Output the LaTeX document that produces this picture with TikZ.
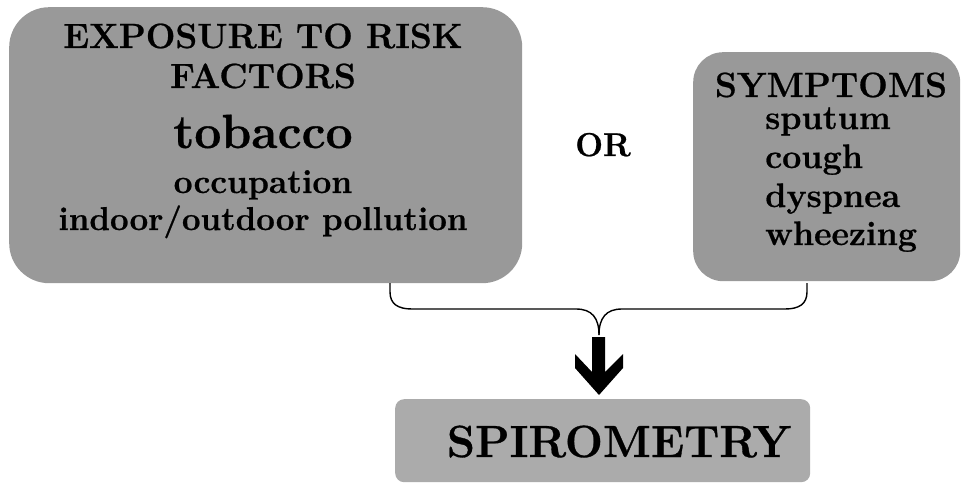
\documentclass[tikz,border=0pt]{standalone}
\usepackage{fontspec}
\setmainfont{Latin Modern Roman}[BoldFeatures={FakeBold=0.7}]
\definecolor{boxgray}{HTML}{999999}
\definecolor{spirogray}{HTML}{ABABAB}
\begin{document}
\begin{tikzpicture}[x=1pt,y=-1pt,
  panel/.style={fill=boxgray, inner sep=0pt, anchor=north west},
  txt/.style={anchor=base, inner sep=0pt, font=\bfseries\fontsize{#1}{#1}\selectfont},
  ltxt/.style={anchor=base west, inner sep=0pt, font=\bfseries\fontsize{#1}{#1}\selectfont},
  brace/.style={draw=black, line width=1.4pt}]
\fill[white] (0,0) rectangle (961,484);
\useasboundingbox (0,0) rectangle (961,484);

% boxes
\node[panel, rounded corners=40pt, minimum width=513pt, minimum height=276pt] (lbox) at (9,7) {};
\node[panel, rounded corners=30pt, minimum width=267pt, minimum height=229pt] (rbox) at (693,52) {};
\node[panel, fill=spirogray, rounded corners=9pt, minimum width=415pt, minimum height=83pt] (sbox) at (395,399) {};

% left texts
\node[txt=35] (t1) at (263,48) {EXPOSURE TO RISK};
\node[txt=35] (t2) at (263,88) {FACTORS};
\node[txt=48] (t3) at (263,148) {tobacco};
\node[txt=33.5] (t4) at (263,193) {occupation};
\node[txt=33] (t5) at (263,230) {indoor/outdoor pollution};

% OR
\node[txt=33] (or) at (603,156) {OR};

% right texts
\node[txt=35] (s0) at (831,97) {SYMPTOMS};
\node[ltxt=34] (s1) at (765,129) {sputum};
\node[ltxt=34] (s2) at (765,168) {cough};
\node[ltxt=34] (s3) at (765,207) {dyspnea};
\node[ltxt=34] (s4) at (765,245) {wheezing};

% spirometry
\node[txt=45] (sp) at (619,457) {SPIROMETRY};

% brace
\coordinate (bl) at (390,283);
\coordinate (br) at (807,283);
\coordinate (btip) at (599,335);
\draw[brace] (bl) -- (390,292) .. controls (390,304) and (398,309) .. (412,309)
  -- (576,309) .. controls (592,309) and (599,318) .. (btip);
\draw[brace] (br) -- (807,292) .. controls (807,304) and (799,309) .. (785,309)
  -- (622,309) .. controls (606,309) and (599,318) .. (btip);

% block arrow
\coordinate (atop) at (598.5,337);
\fill[black] (592,337) -- (605,337) -- (605,372) -- (623,354) -- (623,368)
  -- (599,395) -- (575,368) -- (575,354) -- (592,372) -- cycle;
\end{tikzpicture}
\end{document}
